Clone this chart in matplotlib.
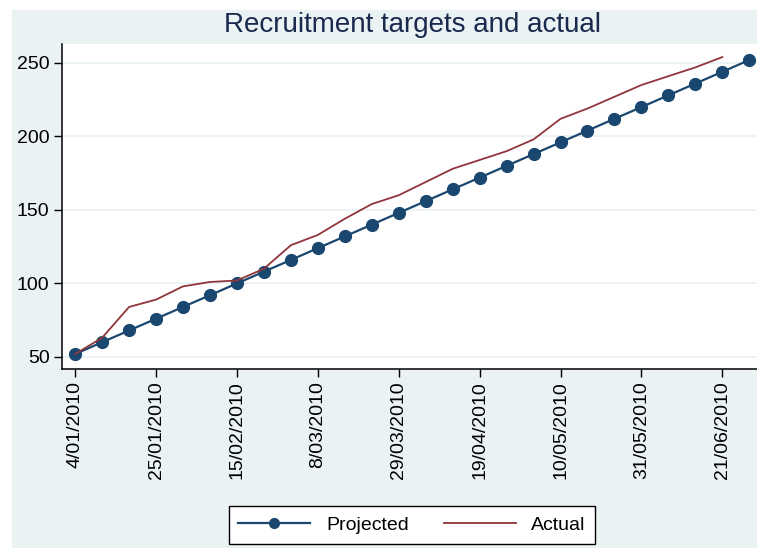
import matplotlib
matplotlib.use("Agg")
import matplotlib.pyplot as plt
import numpy as np
import pandas as pd

plt.rcParams['font.family'] = ['Liberation Sans', 'DejaVu Sans']

# weekly dates
week_dates = ["2010-01-04", "2010-01-11", "2010-01-18", "2010-01-25", "2010-02-01",
              "2010-02-08", "2010-02-15", "2010-02-22", "2010-03-01", "2010-03-08",
              "2010-03-15", "2010-03-22", "2010-03-29", "2010-04-05", "2010-04-12",
              "2010-04-19", "2010-04-26", "2010-05-03", "2010-05-10", "2010-05-17",
              "2010-05-24", "2010-05-31", "2010-06-07", "2010-06-14", "2010-06-21",
              "2010-06-28"]
projected = [52, 60, 68, 76, 84, 92, 100, 108, 116, 124, 132, 140, 148,
             156, 164, 172, 180, 188, 196, 204, 212, 220, 228, 236, 244, 252]
actual = [52, 63, 84, 89, 98, 101, 102, 110, 126, 133, 144, 154, 160,
          169, 178, 184, 190, 198, 212, 219, 227, 235, 241, 247, 254]

tick_dates = ["2010-01-04", "2010-01-25", "2010-02-15", "2010-03-08", "2010-03-29",
              "2010-04-19", "2010-05-10", "2010-05-31", "2010-06-21"]
tick_labels = ["4/01/2010", "25/01/2010", "15/02/2010", "8/03/2010", "29/03/2010",
               "19/04/2010", "10/05/2010", "31/05/2010", "21/06/2010"]
y_ticks = [50, 100, 150, 200, 250]

dates = pd.to_datetime(week_dates)
navy = "#1a476f"
maroon = "#90353b"
bg = "#eaf2f3"

fig = plt.figure(figsize=(7.57, 5.48), dpi=100, facecolor="white")
fig.patches.append(plt.Rectangle((12 / 757, 0), 1, (548 - 10) / 548,
                                 transform=fig.transFigure, color=bg, zorder=-1))

ax = fig.add_axes([62 / 757, (548 - 369) / 548, 1 - 62 / 757, (369 - 44) / 548])
ax.set_facecolor("white")

ax.plot(dates, projected, color=navy, lw=1.6, marker="o", ms=8.5, label="Projected", zorder=3)
ax.plot(dates[:len(actual)], actual, color=maroon, lw=1.3, label="Actual", zorder=4)

ax.set_ylim(41.8, 262.9)
x0 = pd.Timestamp("2010-01-04")
ax.set_xlim(x0 - pd.Timedelta(days=3.4), x0 + pd.Timedelta(days=177))

ax.set_yticks(y_ticks)
ax.set_yticklabels([str(v) for v in y_ticks])
ax.set_xticks(pd.to_datetime(tick_dates))
ax.set_xticklabels(tick_labels, rotation=90)
ax.tick_params(axis="both", labelsize=14, length=6, width=1, color="black", pad=3)

ax.grid(axis="y", color=bg, lw=1.3)
ax.set_axisbelow(True)
for s in ["top", "right"]:
    ax.spines[s].set_visible(False)
for s in ["left", "bottom"]:
    ax.spines[s].set_linewidth(1.1)

fig.text(413 / 757, 1 - 25 / 548, "Recruitment targets and actual",
         ha="center", va="center", fontsize=20, color="#1a2a4f")

leg = fig.legend(loc="center", bbox_to_anchor=(412 / 757, 1 - 525 / 548), ncol=2,
                 fontsize=14, frameon=True, fancybox=False, edgecolor="black",
                 framealpha=1, handlelength=3.7, columnspacing=1.8, borderpad=0.5)
leg.get_frame().set_linewidth(1)
for h in leg.legend_handles:
    h.set_markersize(7)

fig.savefig("out.png", dpi=100, facecolor=fig.get_facecolor())
